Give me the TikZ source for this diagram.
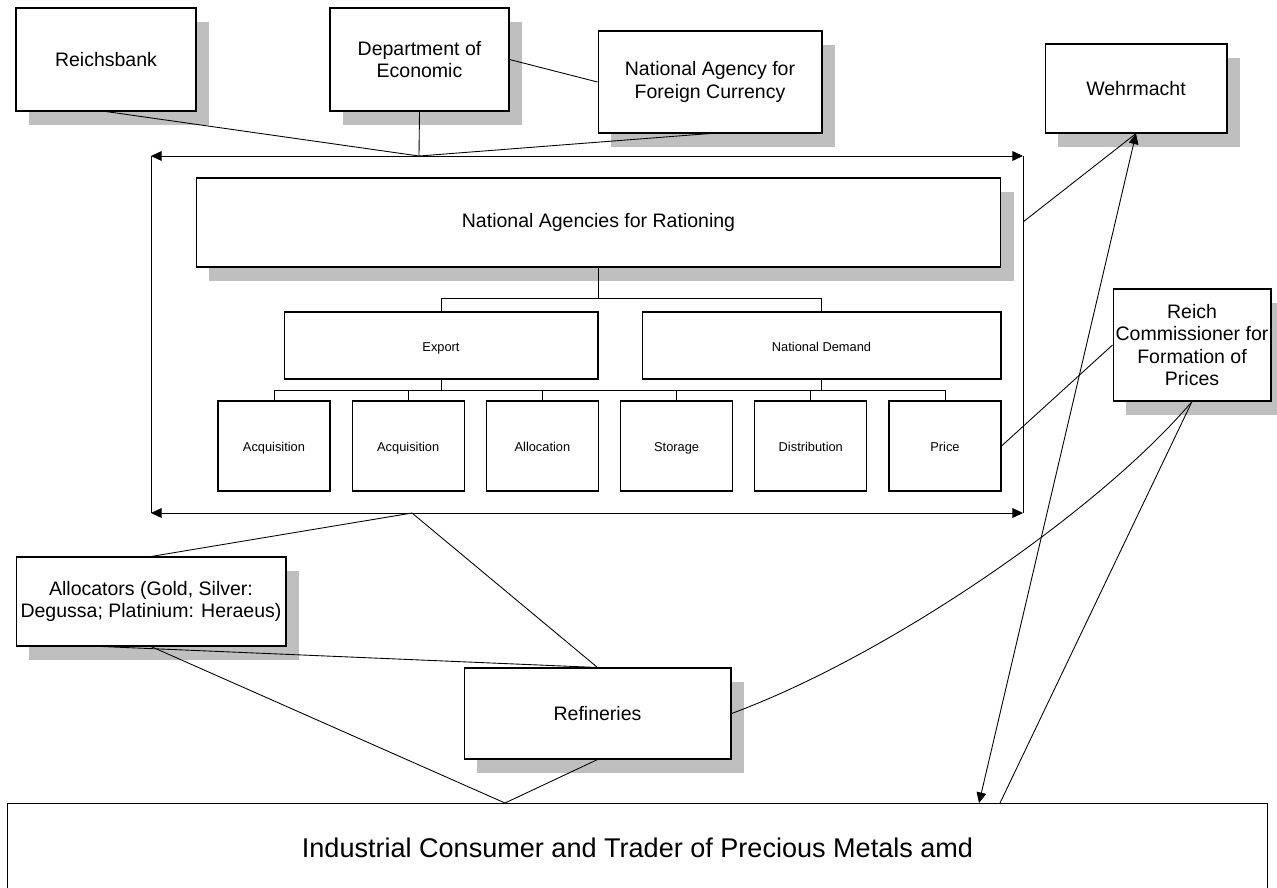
\documentclass[tikz,border=0pt]{standalone}
\usepackage{fontspec}
\setmainfont{Liberation Sans}
\usetikzlibrary{arrows.meta, shadows}

\begin{document}
\begin{tikzpicture}[x=0.02cm, y=-0.02cm,
    box/.style={draw, fill=white, line width=0.6pt, inner sep=0pt, align=center, font=\fontsize{11.1}{13}\selectfont},
    shadowbox/.style={box, drop shadow={shadow xshift=0.26cm, shadow yshift=-0.28cm, fill=black!25, opacity=1}},
    smallbox/.style={box, font=\fontsize{7.3}{9}\selectfont, text height=1.6ex, text depth=0.4ex},
    childbox/.style={smallbox, minimum width=2.24cm, minimum height=1.8cm},
    link/.style={line width=0.5pt},
    arrowend/.style={-{Triangle[length=6pt, width=5.5pt]}},
    bothends/.style={{Triangle[length=6pt, width=5.5pt]}-{Triangle[length=6pt, width=5.5pt]}}]
    \useasboundingbox (0,0) rectangle (1277,887);

    % Top level
    \node[shadowbox, minimum width=3.6cm, minimum height=2.06cm] (reichsbank) at (106,59.5) {Reichsbank};
    \node[shadowbox, minimum width=3.58cm, minimum height=2.06cm] (economic) at (419.5,59.5) {Department of\\Economic};
    \node[shadowbox, minimum width=4.48cm, minimum height=2.04cm] (currency) at (710,82) {National Agency for\\Foreign Currency};
    \node[shadowbox, minimum width=3.64cm, minimum height=1.78cm] (wehrmacht) at (1136,88.5) {Wehrmacht};

    % Rationing frame
    \coordinate (topjoin) at (419,156);
    \coordinate (botjoin) at (412,513);
    \coordinate (frametl) at (151,156);
    \coordinate (frametr) at (1023,156);
    \coordinate (framebl) at (151,513);
    \coordinate (framebr) at (1023,513);
    \coordinate (frameside) at (1023,222);

    \node[shadowbox, minimum width=16.1cm, minimum height=1.78cm] (rationing) at (598.5,222.5) {National Agencies for Rationing};
    \node[smallbox, minimum width=6.28cm, minimum height=1.34cm] (export) at (441,345.5) {Export};
    \node[smallbox, minimum width=7.18cm, minimum height=1.34cm] (demand) at (821.5,345.5) {National Demand};

    \node[childbox] (acqa) at (274,446) {Acquisition};
    \node[childbox] (acqb) at (408.2,446) {Acquisition};
    \node[childbox] (allocation) at (542.4,446) {Allocation};
    \node[childbox] (storage) at (676.6,446) {Storage};
    \node[childbox] (distribution) at (810.8,446) {Distribution};
    \node[childbox] (price) at (945,446) {Price};

    % Right and bottom
    \node[shadowbox, minimum width=3.16cm, minimum height=2.24cm, font=\fontsize{11.1}{12.7}\selectfont] (commissioner) at (1192,345) {Reich\\Commissioner for\\Formation of\\Prices};
    \node[shadowbox, minimum width=5.4cm, minimum height=1.78cm] (allocators) at (151,601.5) {Allocators (Gold, Silver:\\Degussa; Platinium: Heraeus)};
    \node[shadowbox, minimum width=5.34cm, minimum height=1.82cm] (refineries) at (597.5,713.5) {Refineries};
    \node[box, minimum width=25.22cm, minimum height=1.8cm, font=\fontsize{15.4}{18}\selectfont] (industrial) at (637.5,848) {Industrial Consumer and Trader of Precious Metals amd};

    \coordinate (indleft) at (505,803);
    \coordinate (indwehr) at (979,803);
    \coordinate (indreich) at (1000,803);

    % Connectors on top
    \draw[link] (reichsbank.south) -- (topjoin);
    \draw[link] (economic.south) -- (topjoin);
    \draw[link] (currency.south) -- (topjoin);
    \draw[link] (economic.east) -- (currency.west);

    \draw[link, arrowend] (topjoin) -- (frametl);
    \draw[link, arrowend] (topjoin) -- (frametr);
    \draw[link, arrowend] (botjoin) -- (framebl);
    \draw[link, arrowend] (botjoin) -- (framebr);
    \draw[link] (frametl) -- (framebl);
    \draw[link] (frametr) -- (framebr);

    % Tree
    \draw[link] (rationing.south) -- ++(0,31) -| (export.north);
    \draw[link] (rationing.south) -- ++(0,31) -| (demand.north);
    \foreach \child in {acqa, acqb, allocation, storage}
        \draw[link] (export.south) -- ++(0,11) -| (\child.north);
    \foreach \child in {storage, distribution, price}
        \draw[link] (demand.south) -- ++(0,11) -| (\child.north);

    % Right side
    \draw[link] (frameside) -- (wehrmacht.south);
    \draw[link, bothends] (indwehr) -- (wehrmacht.south);
    \draw[link] (price.east) -- (commissioner.west);
    \draw[link] (commissioner.south) -- (indreich);
    \draw[link] (commissioner.south) .. controls (1100,510) and (890,655) .. (refineries.east);

    % Bottom
    \draw[link] (botjoin) -- (allocators.north);
    \draw[link] (botjoin) -- (refineries.north);
    \draw[link] ([xshift=-0.98cm]allocators.south) -- (refineries.north);
    \draw[link] (allocators.south) -- (indleft);
    \draw[link] (refineries.south) -- (indleft);
\end{tikzpicture}
\end{document}
